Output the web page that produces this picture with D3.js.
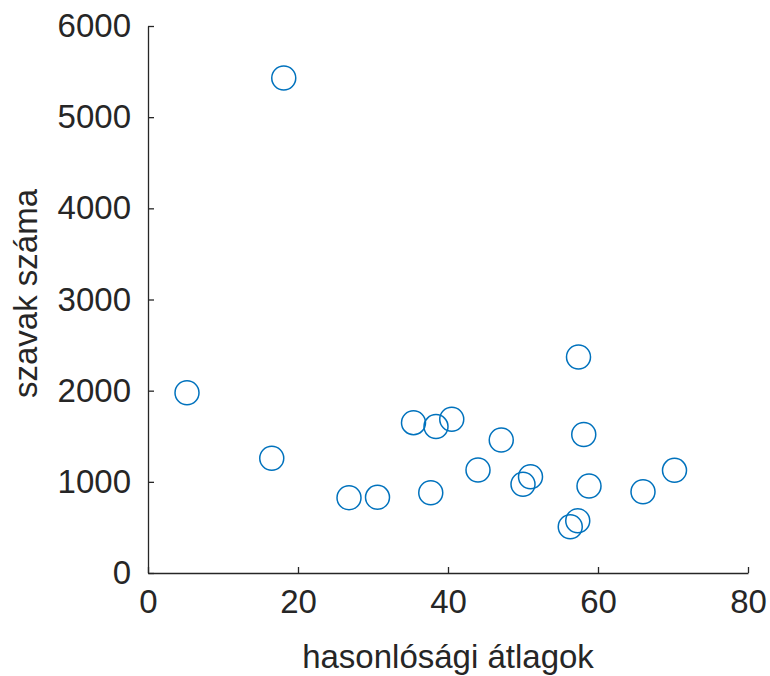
<!DOCTYPE html>
<html>
<head>
<meta charset="utf-8">
<script src="https://cdn.jsdelivr.net/npm/d3@7"></script>
<style>
  body { margin: 0; background: #fff; }
  svg text { font-family: "Liberation Sans", Arial, sans-serif; fill: #262626; }
</style>
</head>
<body>
<svg id="chart" width="770" height="676"></svg>
<script>
// hasonlósági átlagok (x) vs szavak száma (y)
const xVals = [18.1, 5.2, 16.5, 26.8, 30.6, 35.4, 38.4, 40.5, 37.7, 44.0, 47.1, 50.0, 51.0, 57.4, 58.1, 58.8, 56.3, 57.3, 66.0, 70.2];
const yVals = [5430, 1977, 1258, 826, 830, 1649, 1606, 1686, 881, 1130, 1459, 973, 1056, 2369, 1520, 954, 508, 574, 892, 1126];
const xTicks = [0, 20, 40, 60, 80];
const yTicks = [0, 1000, 2000, 3000, 4000, 5000, 6000];

const svg = d3.select("#chart");
const m = { left: 148, right: 748, top: 26, bottom: 573 };

const x = d3.scaleLinear().domain([0, 80]).range([m.left, m.right]);
const y = d3.scaleLinear().domain([0, 6000]).range([m.bottom, m.top]);

// x axis
const xAxis = svg.append("g")
    .attr("transform", "translate(0," + m.bottom + ")")
    .call(d3.axisBottom(x).tickValues(xTicks).tickFormat(d3.format("d"))
        .tickSizeInner(-6).tickSizeOuter(0).tickPadding(17));
xAxis.select(".domain").attr("stroke", "#262626").attr("stroke-width", 1.3);
xAxis.selectAll(".tick line").attr("stroke", "#262626").attr("stroke-width", 1.3);
xAxis.selectAll("text").style("font-size", "33px").attr("fill", "#262626").attr("dy", "0.71em");

// y axis
const yAxis = svg.append("g")
    .attr("transform", "translate(" + m.left + ",0)")
    .call(d3.axisLeft(y).tickValues(yTicks).tickFormat(d3.format("d"))
        .tickSizeInner(-6).tickSizeOuter(0).tickPadding(17));
yAxis.select(".domain").attr("stroke", "#262626").attr("stroke-width", 1.3);
yAxis.selectAll(".tick line").attr("stroke", "#262626").attr("stroke-width", 1.3);
yAxis.selectAll("text").style("font-size", "33px").attr("fill", "#262626");

// axis labels
svg.append("text")
    .attr("x", (m.left + m.right) / 2)
    .attr("y", 668)
    .attr("text-anchor", "middle")
    .style("font-size", "33px")
    .text("hasonlósági átlagok");

svg.append("text")
    .attr("transform", "translate(37," + ((m.top + m.bottom) / 2 - 6) + ") rotate(-90)")
    .attr("text-anchor", "middle")
    .style("font-size", "33px")
    .text("szavak száma");

// points
svg.append("g").selectAll("circle")
    .data(xVals.map((d, i) => [d, yVals[i]]))
    .enter().append("circle")
    .attr("cx", d => x(d[0]))
    .attr("cy", d => y(d[1]))
    .attr("r", 12)
    .attr("fill", "none")
    .attr("stroke", "#0072BD")
    .attr("stroke-width", 1.5);
</script>
</body>
</html>
